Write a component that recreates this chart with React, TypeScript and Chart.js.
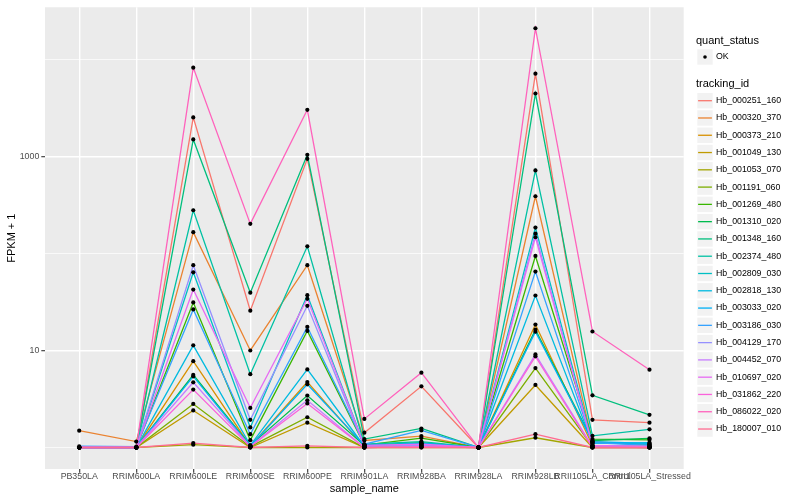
import { useEffect, useRef } from "react";
import { Chart, registerables } from "chart.js";

Chart.register(...registerables);

const FONT = '"Liberation Sans", Arial, Helvetica, sans-serif';

const categories = [
  "PB350LA",
  "RRIM600LA",
  "RRIM600LE",
  "RRIM600SE",
  "RRIM600PE",
  "RRIM901LA",
  "RRIM928BA",
  "RRIM928LA",
  "RRIM928LB",
  "RRII105LA_Control",
  "RRII105LA_Stressed",
];

const trackingIds = [
  "Hb_000251_160",
  "Hb_000320_370",
  "Hb_000373_210",
  "Hb_001049_130",
  "Hb_001053_070",
  "Hb_001191_060",
  "Hb_001269_480",
  "Hb_001310_020",
  "Hb_001348_160",
  "Hb_002374_480",
  "Hb_002809_030",
  "Hb_002818_130",
  "Hb_003033_020",
  "Hb_003186_030",
  "Hb_004129_170",
  "Hb_004452_070",
  "Hb_010697_020",
  "Hb_031862_220",
  "Hb_086022_020",
  "Hb_180007_010",
];

const seriesColors = [
  "#F8766D", "#EA8331", "#D89000", "#C09B00", "#A3A500",
  "#7CAE00", "#39B600", "#00BB4E", "#00BF7D", "#00C1A3",
  "#00BFC4", "#00BAE0", "#00B0F6", "#35A2FF", "#9590FF",
  "#C77CFF", "#E76BF3", "#FA62DB", "#FF62BC", "#FF6C91",
];

// FPKM + 1 per sample, in category order
const hb000251_160 = [1, 1, 2530, 25.7, 946, 1.42, 4.27, 1, 7140, 1.93, 1.8];
const hb000320_370 = [1.49, 1.15, 166, 10.0, 75.7, 1.18, 1.31, 1, 389, 1.15, 1.06];
const hb000373_210 = [1, 1, 7.76, 1.03, 4.73, 1.02, 1.06, 1, 18.5, 1.05, 1.03];
const hb001049_130 = [1, 1, 2.41, 1.0, 1.8, 1.0, 1.02, 1, 4.41, 1.0, 1.0];
const hb001053_070 = [1, 1, 1.07, 1.0, 1.0, 1.0, 1.0, 1, 1.26, 1.0, 1.0];
const hb001191_060 = [1, 1, 2.81, 1.02, 2.05, 1.0, 1.05, 1, 6.58, 1.02, 1.0];
const hb001269_480 = [1, 1, 31.3, 1.19, 15.9, 1.06, 1.25, 1, 94.3, 1.22, 1.2];
const hb001310_020 = [1, 1, 5.6, 1.05, 3.43, 1.05, 1.12, 1, 16.4, 1.18, 1.24];
const hb001348_160 = [1, 1, 1500, 39.4, 1040, 1.22, 1.57, 1, 4460, 3.45, 2.17];
const hb002374_480 = [1, 1, 279, 5.7, 118.6, 1.08, 1.15, 1, 718, 1.32, 1.54];
const hb002809_030 = [1, 1, 64, 1.61, 37.2, 1.05, 1.1, 1, 185, 1.12, 1.08];
const hb002818_130 = [1, 1, 11.3, 1.05, 6.38, 1.03, 1.1, 1, 36.9, 1.1, 1.12];
const hb003033_020 = [1, 1, 5.4, 1.03, 4.48, 1.05, 1.1, 1, 15.6, 1.15, 1.1];
const hb003186_030 = [1.03, 1.02, 26.5, 1.37, 17.5, 1.08, 1.5, 1, 65.1, 1.12, 1.05];
const hb004129_170 = [1, 1, 75.7, 1.93, 28.9, 1.03, 1.05, 1, 160, 1.05, 1.03];
const hb004452_070 = [1, 1, 4.7, 1.03, 3.07, 1.0, 1.02, 1, 9.1, 1.02, 1.0];
const hb010697_020 = [1, 1, 42.5, 2.56, 34.1, 1.05, 1.08, 1, 147, 1.05, 1.02];
const hb031862_220 = [1, 1, 3.95, 1.02, 2.84, 1.0, 1.02, 1, 8.7, 1.0, 1.0];
const hb086022_020 = [1, 1, 8240, 202, 3030, 1.97, 5.9, 1, 21000, 15.7, 6.34];
const hb180007_010 = [1, 1, 1.11, 1.0, 1.04, 1.0, 1.0, 1, 1.37, 1.0, 1.0];

const seriesValues = [
  hb000251_160, hb000320_370, hb000373_210, hb001049_130, hb001053_070,
  hb001191_060, hb001269_480, hb001310_020, hb001348_160, hb002374_480,
  hb002809_030, hb002818_130, hb003033_020, hb003186_030, hb004129_170,
  hb004452_070, hb010697_020, hb031862_220, hb086022_020, hb180007_010,
];

const yGridValues = [1, 10, 100, 1000, 10000];
const yLabelValues = [10, 1000];

const quantStatus = ["OK"];

export default function App() {
  const canvasRef = useRef<HTMLCanvasElement | null>(null);

  useEffect(() => {
    const canvas = canvasRef.current;
    if (!canvas) return;

    const all = seriesValues.flat();
    const lmin = Math.log10(Math.min(...all));
    const lmax = Math.log10(Math.max(...all));
    const pad = (lmax - lmin) * 0.05;
    const yMin = Math.pow(10, lmin - pad);
    const yMax = Math.pow(10, lmax + pad);

    const lineDatasets = seriesValues.map((vals, i) => ({
      type: "line" as const,
      label: trackingIds[i],
      data: vals.map((v, j) => ({ x: j, y: v })),
      borderColor: seriesColors[i],
      backgroundColor: seriesColors[i],
      borderWidth: 1.3,
      pointRadius: 0,
      tension: 0,
      fill: false,
      order: seriesValues.length - i,
    }));

    const pointDataset = {
      type: "line" as const,
      label: "quant_status",
      data: seriesValues.flatMap((vals) => vals.map((v, j) => ({ x: j, y: v }))),
      showLine: false,
      pointRadius: 2.1,
      pointHoverRadius: 2.1,
      pointBackgroundColor: "#000000",
      pointBorderWidth: 0,
      borderColor: "#000000",
      order: -100,
    };

    const bgPlugin = {
      id: "panelBg",
      beforeDraw(chart: any) {
        const { ctx, chartArea } = chart;
        ctx.save();
        ctx.fillStyle = "#FFFFFF";
        ctx.fillRect(0, 0, chart.width, chart.height);
        ctx.fillStyle = "#EBEBEB";
        ctx.fillRect(
          chartArea.left,
          chartArea.top,
          chartArea.right - chartArea.left,
          chartArea.bottom - chartArea.top
        );
        ctx.restore();
      },
    };

    const legendPlugin = {
      id: "ggLegend",
      afterDraw(chart: any) {
        const ctx = chart.ctx as CanvasRenderingContext2D;
        const x0 = 696;
        const keyX = 697.3;
        const keyW = 15.4;
        const rowH = 17.28;
        ctx.save();
        ctx.textAlign = "left";
        ctx.textBaseline = "middle";
        // quant_status section
        ctx.fillStyle = "#000000";
        ctx.font = `11px ${FONT}`;
        ctx.fillText("quant_status", x0, 41);
        quantStatus.forEach((q, k) => {
          const cy = 57 + k * rowH;
          ctx.fillStyle = "#F2F2F2";
          ctx.fillRect(keyX, cy - keyW / 2, keyW, keyW);
          ctx.fillStyle = "#000000";
          ctx.beginPath();
          ctx.arc(keyX + keyW / 2, cy, 1.8, 0, Math.PI * 2);
          ctx.fill();
          ctx.font = `8.8px ${FONT}`;
          ctx.fillText(q, 716, cy);
        });
        // tracking_id section
        ctx.font = `11px ${FONT}`;
        ctx.fillStyle = "#000000";
        ctx.fillText("tracking_id", x0, 84);
        trackingIds.forEach((id, i) => {
          const cy = 100.7 + i * rowH;
          ctx.fillStyle = "#F2F2F2";
          ctx.fillRect(keyX, cy - keyW / 2, keyW, keyW);
          ctx.strokeStyle = seriesColors[i];
          ctx.lineWidth = 1.3;
          ctx.beginPath();
          ctx.moveTo(keyX + 0.8, cy);
          ctx.lineTo(keyX + keyW - 0.8, cy);
          ctx.stroke();
          ctx.fillStyle = "#000000";
          ctx.font = `8.8px ${FONT}`;
          ctx.fillText(id, 716, cy);
        });
        ctx.restore();
      },
    };

    const chart = new Chart(canvas, {
      type: "line",
      data: { datasets: [...lineDatasets, pointDataset] as any },
      options: {
        animation: false,
        responsive: false,
        maintainAspectRatio: false,
        events: [],
        layout: { padding: { top: 5.5, right: 116.3, left: 0, bottom: 0 } },
        plugins: {
          legend: { display: false },
          tooltip: { enabled: false },
          title: { display: false },
        },
        scales: {
          x: {
            type: "linear",
            min: -0.6,
            max: categories.length - 1 + 0.6,
            afterBuildTicks: (axis: any) => {
              axis.ticks = categories.map((_, i) => ({ value: i }));
            },
            afterFit: (axis: any) => {
              axis.height = 31;
            },
            ticks: {
              autoSkip: false,
              maxRotation: 0,
              minRotation: 0,
              color: "#4D4D4D",
              font: { family: FONT, size: 8.8 },
              padding: -1,
              callback: (v: any) => categories[Math.round(Number(v))] ?? "",
            },
            grid: {
              color: "#FFFFFF",
              lineWidth: 1.4,
              drawTicks: true,
              tickLength: 3.7,
              tickColor: "#333333",
              tickWidth: 1.1,
            },
            border: { display: false },
            title: {
              display: true,
              text: "sample_name",
              color: "#000000",
              font: { family: FONT, size: 11 },
              padding: { top: 5.4, bottom: 4.6 },
            },
          },
          y: {
            type: "logarithmic",
            min: yMin,
            max: yMax,
            afterBuildTicks: (axis: any) => {
              axis.ticks = yGridValues.map((v) => ({ value: v }));
            },
            afterFit: (axis: any) => {
              axis.width = 45;
            },
            ticks: {
              autoSkip: false,
              color: "#4D4D4D",
              font: { family: FONT, size: 8.8 },
              padding: 2,
              callback: (v: any) =>
                yLabelValues.includes(Number(v)) ? String(Number(v)) : "",
            },
            grid: {
              color: "#FFFFFF",
              lineWidth: (c: any) =>
                yLabelValues.includes(c.tick?.value) ? 1.4 : 0.7,
              drawTicks: true,
              tickLength: 3.7,
              tickColor: (c: any) =>
                yLabelValues.includes(c.tick?.value) ? "#333333" : "rgba(0,0,0,0)",
              tickWidth: 1.1,
            },
            border: { display: false },
            title: {
              display: true,
              text: "FPKM + 1",
              color: "#000000",
              font: { family: FONT, size: 11 },
              padding: { top: 5.4, bottom: 0 },
            },
          },
        },
      } as any,
      plugins: [bgPlugin, legendPlugin],
    });

    return () => {
      chart.destroy();
    };
  }, []);

  return (
    <div
      style={{
        position: "fixed",
        left: 0,
        top: 0,
        width: 800,
        height: 500,
        background: "#FFFFFF",
      }}
    >
      <canvas
        ref={canvasRef}
        width={800}
        height={500}
        style={{ display: "block", width: 800, height: 500 }}
      />
    </div>
  );
}
